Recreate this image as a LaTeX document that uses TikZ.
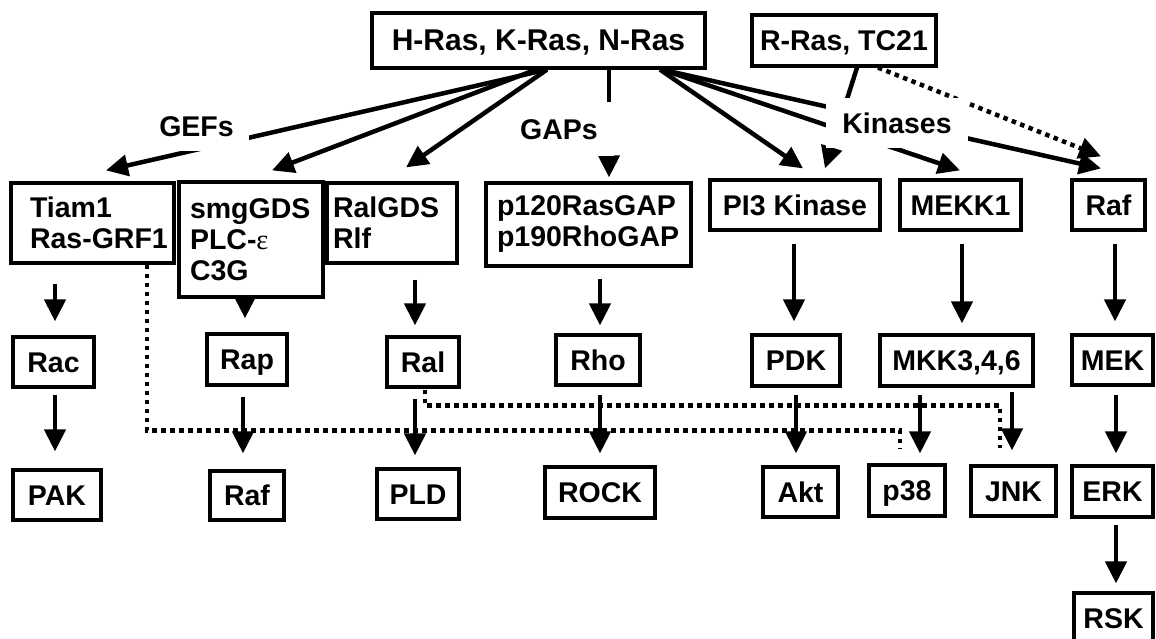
\documentclass[tikz,border=0pt]{standalone}
\usepackage{fontspec}
\setmainfont{Liberation Sans}
\newfontfamily\epsfont{Liberation Serif}
\usetikzlibrary{arrows.meta,calc}
\begin{document}
\begin{tikzpicture}[x=1pt,y=-1pt,
  font=\fontsize{28.5}{31}\selectfont\bfseries,
  box/.style={draw, line width=3.2pt, inner sep=0pt, text height=20.5pt, text depth=0pt, align=center},
  mbox/.style={draw, line width=3.2pt, align=left},
  lab/.style={fill=white, text height=20.5pt, text depth=0pt},
  arr/.style={line width=4.5pt, -{Triangle[length=22pt,width=21pt]}},
  dots/.style={line width=4.5pt, dash pattern=on 4.5pt off 4.5pt},
  darr/.style={dots, -{Triangle[length=22pt,width=21pt]}}]
\useasboundingbox (0,0) rectangle (1156,639);

% top
\node[box, minimum width=333pt, minimum height=55pt, font=\fontsize{30}{31}\selectfont\bfseries] (hras) at (538.5,40.5) {H-Ras, K-Ras, N-Ras};
\node[box, minimum width=184pt, minimum height=51pt] (rras) at (844,40.5) {R-Ras, TC21};

% row 1
\node[mbox, inner xsep=19pt, text width=125pt, minimum height=80pt] (tiam) at (92.5,223) {\mbox{Tiam1}\\\mbox{Ras-GRF1}};
\node[mbox, inner xsep=11pt, text width=122pt, minimum height=115pt] (smg) at (251,239.5) {\mbox{smgGDS}\\\mbox{PLC-{\epsfont\mdseries ε}}\\\mbox{C3G}};
\node[mbox, inner xsep=6pt, text width=118pt, minimum height=80pt] (ralgds) at (392,223) {\mbox{RalGDS}\\\mbox{Rlf}};
\node[mbox, inner xsep=11pt, text width=183pt, minimum height=83pt] (p120) at (588.5,224.5) {\mbox{p120RasGAP}\\\mbox{p190RhoGAP}};
\node[box, minimum width=170pt, minimum height=50pt] (pi3) at (795,205) {PI3 Kinase};
\node[box, minimum width=121pt, minimum height=50pt] (mekk1) at (960.5,205) {MEKK1};
\node[box, minimum width=73pt, minimum height=50pt] (raf1) at (1108.5,205) {Raf};

% row 2
\node[box, minimum width=81pt, minimum height=50pt] (rac) at (53.5,362) {Rac};
\node[box, minimum width=80pt, minimum height=51pt] (rap) at (247,359.5) {Rap};
\node[box, minimum width=72pt, minimum height=50pt] (ral) at (423,362) {Ral};
\node[box, minimum width=84pt, minimum height=50pt] (rho) at (598,360) {Rho};
\node[box, minimum width=88pt, minimum height=51pt] (pdk) at (796,360.5) {PDK};
\node[box, minimum width=153pt, minimum height=51pt] (mkk) at (956.5,360.5) {MKK3,4,6};
\node[box, minimum width=81pt, minimum height=50pt] (mek) at (1112.5,360) {MEK};

% row 3
\node[box, minimum width=88pt, minimum height=50pt] (pak) at (57,495) {PAK};
\node[box, minimum width=74pt, minimum height=49pt] (raf2) at (247,495.5) {Raf};
\node[box, minimum width=82pt, minimum height=50pt] (pld) at (418,494) {PLD};
\node[box, minimum width=110pt, minimum height=51pt] (rock) at (600,492.5) {ROCK};
\node[box, minimum width=75pt, minimum height=50pt] (akt) at (800.5,492) {Akt};
\node[box, minimum width=76pt, minimum height=51pt] (p38) at (907,490.5) {p38};
\node[box, minimum width=85pt, minimum height=50pt] (jnk) at (1013.5,491) {JNK};
\node[box, minimum width=81pt, minimum height=51pt] (erk) at (1112.5,491.5) {ERK};
\node[box, minimum width=79pt, minimum height=50pt] (rsk) at (1113.5,618) {RSK};

% dotted paths
\draw[dots] ($(tiam.south)+(54.5,0)$) |- ($(p38.north)+(-7,-33)$) -- ($(p38.north)+(-7,-15)$);
\draw[dots] ($(ral.south)+(2,1)$) |- ($(jnk.north)+(-13.5,-59)$) -- ($(jnk.north)+(-13.5,-16)$);
\draw[darr] ($(rras.south)+(34,0)$) -- ($(raf1.north)+(-7.5,-22)$);

% arrows from H-Ras
\draw[arr] ($(hras.south)+(8.5,0)$) -- ($(tiam.north)+(13.5,-11)$);
\draw[arr] ($(hras.south)+(-2.5,0)$) -- ($(smg.north)+(21,-10)$);
\draw[arr] ($(hras.south)+(8.5,0)$) -- ($(ralgds.north)+(14,-14)$);
\draw[arr] ($(hras.south)+(70.5,0)$) -- ($(p120.north)+(20.5,-4)$);
\draw[arr] ($(hras.south)+(121.5,0)$) -- ($(pi3.north)+(8,-10)$);
\draw[arr] ($(hras.south)+(123.5,0)$) -- ($(mekk1.north)+(-0.5,-8)$);
\draw[arr] ($(hras.south)+(123.5,0)$) -- ($(raf1.north)+(-7.5,-10)$);
\draw[arr] ($(rras.south)+(13,0)$) -- ($(pi3.north)+(30,-10)$);

% vertical arrows
\draw[arr] ($(tiam.south)+(-37.5,19)$) -- ($(rac.north)+(1.5,-14)$);
\draw[arr] ($(smg.south)+(-6,3)$) -- ($(rap.north)+(-2,-14)$);
\draw[arr] ($(ralgds.south)+(23,15)$) -- ($(ral.north)+(-8,-10)$);
\draw[arr] ($(p120.south)+(11.5,11)$) -- ($(rho.north)+(2,-8)$);
\draw[arr] ($(pi3.south)+(-1,12)$) -- ($(pdk.north)+(-2,-12)$);
\draw[arr] ($(mekk1.south)+(1.5,12)$) -- ($(mkk.north)+(5.5,-10)$);
\draw[arr] ($(raf1.south)+(6.5,12)$) -- ($(mek.north)+(2.5,-12)$);
\draw[arr] ($(rac.south)+(1.5,6)$) -- ($(pak.north)+(-2,-17)$);
\draw[arr] ($(rap.south)+(-4,10)$) -- ($(raf2.north)+(-4,-16)$);
\draw[arr] ($(ral.south)+(-8,10)$) -- ($(pld.north)+(-3,-12)$);
\draw[arr] ($(rho.south)+(2,8)$) -- ($(rock.north)+(0,-12)$);
\draw[arr] ($(pdk.south)+(0,7)$) -- ($(akt.north)+(-4.5,-12)$);
\draw[arr] ($(mkk.south)+(-36.5,7)$) -- ($(p38.north)+(13,-10)$);
\draw[arr] ($(mkk.south)+(55.5,4)$) -- ($(jnk.north)+(-1.5,-14)$);
\draw[arr] ($(mek.south)+(3.5,8)$) -- ($(erk.north)+(3.5,-11)$);
\draw[arr] ($(erk.south)+(3.5,6)$) -- ($(rsk.north)+(2.5,-8)$);

% labels (drawn last, white background hides the lines behind them)
\node[lab, inner xsep=15pt, inner ysep=14pt] (gefs) at (196.5,126.5) {GEFs};
\node[lab, inner xsep=16pt, inner ysep=17pt] (gaps) at (559,129) {GAPs};
\node[lab, inner xsep=16pt, inner ysep=15pt] (kin) at (897,123) {Kinases};
\end{tikzpicture}
\end{document}
